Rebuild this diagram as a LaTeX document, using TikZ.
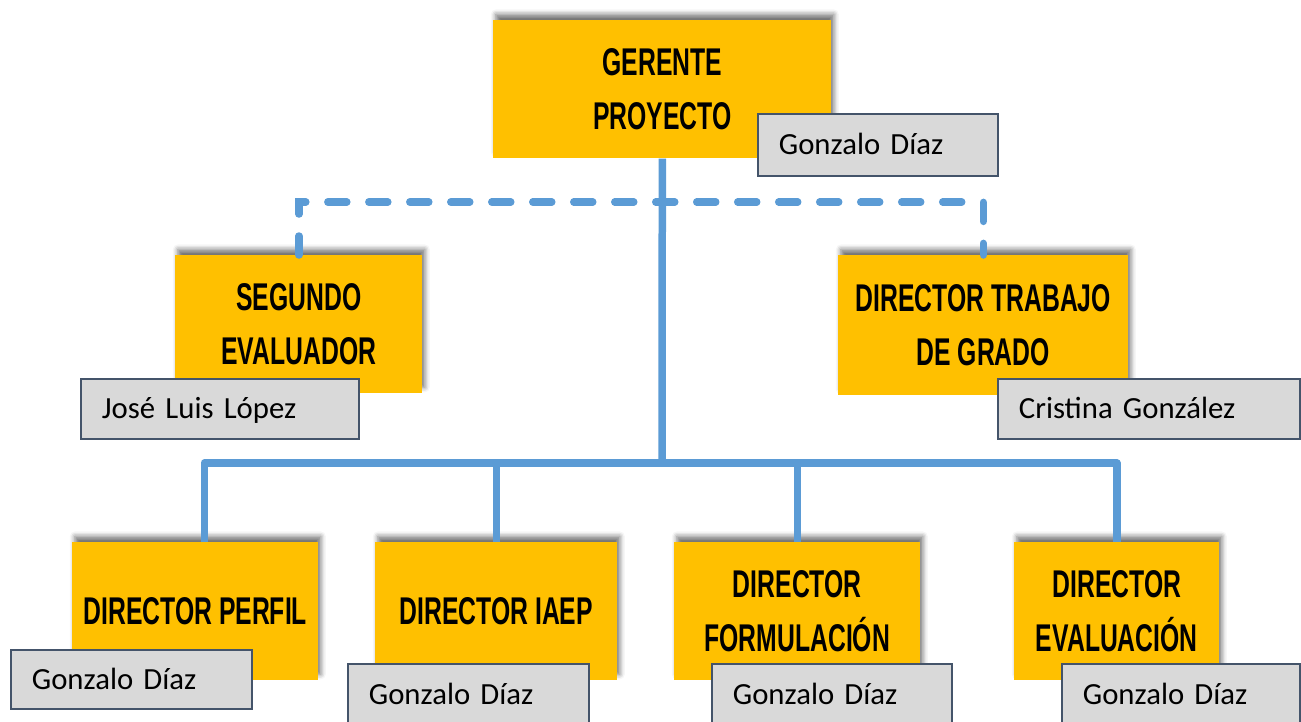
\documentclass[tikz,border=0pt]{standalone}
\usepackage{fontspec}
\setmainfont{Carlito}
\newfontfamily\cargofont[FakeStretch=0.64]{Liberation Sans}
\usetikzlibrary{shadows.blur}

\definecolor{naranja}{HTML}{FFC000}
\definecolor{gris}{HTML}{D9D9D9}
\definecolor{borde}{HTML}{44546A}
\definecolor{azul}{HTML}{5B9BD5}

\tikzset{
    cargobox/.style={fill=naranja, anchor=north west, inner sep=0pt, align=center,
        font={\fontsize{22}{31}\selectfont\cargofont\bfseries},
        blur shadow={shadow xshift=0.05cm, shadow yshift=0.12cm, shadow blur radius=0.1cm, shadow opacity=55}},
    namebox/.style={fill=gris, draw=borde, line width=1pt, anchor=north west, align=left,
        inner xsep=0.42cm, inner ysep=0pt, text height=13pt, text depth=2pt,
        font={\fontsize{17.5}{20}\selectfont}},
    linea/.style={azul, line width=0.15cm},
    punteada/.style={azul, line width=0.15cm, line cap=round, dash pattern=on 0.38cm off 0.44cm}
}

\begin{document}
\begin{tikzpicture}[x=0.02cm, y=-0.02cm]
    \useasboundingbox (0,0) rectangle (1301,721);

    % junction points of the connectors
    \coordinate (bar) at (662,463);
    \coordinate (dash) at (662,202);

    % orange boxes, placed by their top left corner
    \node[cargobox, minimum width=6.76cm, minimum height=2.76cm] (gerente) at (493,20) {GERENTE\\PROYECTO};
    \node[cargobox, minimum width=4.94cm, minimum height=2.76cm] (segundo) at (175,255) {SEGUNDO\\EVALUADOR};
    \node[cargobox, minimum width=5.8cm, minimum height=2.8cm] (trabajo) at (838,255) {DIRECTOR TRABAJO\\DE GRADO};
    \node[cargobox, minimum width=4.92cm, minimum height=2.76cm] (perfil) at (72,542) {DIRECTOR PERFIL};
    \node[cargobox, minimum width=4.84cm, minimum height=2.76cm] (iaep) at (375,542) {DIRECTOR IAEP};
    \node[cargobox, minimum width=4.92cm, minimum height=2.76cm] (formulacion) at (674,542) {DIRECTOR\\FORMULACIÓN};
    \node[cargobox, minimum width=4.1cm, minimum height=2.76cm] (evaluacion) at (1014,542) {DIRECTOR\\EVALUACIÓN};

    % solid lines from the manager down to the four directors
    \draw[linea] (gerente.south) -- (bar);
    \draw[linea, line join=round] ([xshift=0.18cm]perfil.north) -- ([xshift=0.18cm]perfil.north |- bar) -- (evaluacion.north |- bar) -- (evaluacion.north);
    \draw[linea] (iaep.north |- bar) -- (iaep.north);
    \draw[linea] (formulacion.north |- bar) -- (formulacion.north);

    % dashed line to the two advisers
    \draw[punteada] (segundo.north) -- (segundo.north |- dash) -- (trabajo.north |- dash) -- (trabajo.north);

    % grey name boxes
    \node[namebox, text width=3.96cm, minimum height=1.24cm] (ngerente) at (757,113) {Gonzalo Díaz};
    \node[namebox, text width=4.72cm, minimum height=1.2cm] (nsegundo) at (80,378) {José Luis López};
    \node[namebox, text width=5.2cm, minimum height=1.2cm] (ntrabajo) at (997,378) {Cristina González};
    \node[namebox, text width=3.98cm, minimum height=1.18cm] (nperfil) at (10,649) {Gonzalo Díaz};
    \node[namebox, text width=3.98cm, minimum height=1.24cm] (niaep) at (347,663) {Gonzalo Díaz};
    \node[namebox, text width=3.96cm, minimum height=1.24cm] (nformulacion) at (711,663) {Gonzalo Díaz};
    \node[namebox, text width=3.92cm, minimum height=1.24cm] (nevaluacion) at (1061,663) {Gonzalo Díaz};
\end{tikzpicture}
\end{document}
